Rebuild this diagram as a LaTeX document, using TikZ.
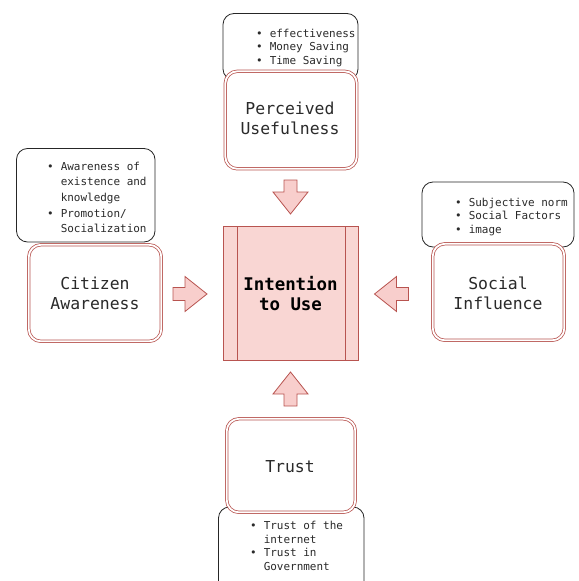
\documentclass[tikz,border=0pt]{standalone}
\usepackage{fontspec}
\setmonofont{DejaVu Sans Mono}
\newfontfamily\mono{DejaVu Sans Mono}
\definecolor{redline}{HTML}{B85450}
\definecolor{pinkfill}{HTML}{F9D6D3}
\definecolor{arrfill}{HTML}{F8CECC}
\definecolor{txt}{HTML}{2A2A2A}
\newcommand{\bl}{\makebox[13.6bp][l]{\textbullet}}
\newcommand{\ind}{\hspace*{13.6bp}}
\begin{document}
\begin{tikzpicture}[x=1bp,y=-1bp,
  notebox/.style={draw=black!85, line width=0.8bp, fill=white, rounded corners=11bp},
  factorbox/.style={draw=redline, line width=0.75bp, double=white, double distance=1.8bp, fill=white, rounded corners=12bp},
  bullets/.style={anchor=base west, inner sep=0pt, align=left, text=txt, font=\mono\fontsize{11}{13.6}\selectfont},
  label/.style={align=center, text=txt, font=\mono\fontsize{16.5}{20.5}\selectfont},
  arrstyle/.style={draw=redline, line width=0.8bp, fill=arrfill, line join=miter},
  blockarr/.pic={\draw[arrstyle] (0,-6.5) -- (12,-6.5) -- (12,-17.5) -- (34,0) -- (12,17.5) -- (12,6.5) -- (0,6.5) -- cycle;}
]
\useasboundingbox (0,0) rectangle (579,581);

% Perceived Usefulness
\draw[notebox] (223,13.5) rectangle (358,80);
\node[bullets] (pub) at (256,64.2) {\bl effectiveness\\\bl Money Saving\\\bl Time Saving};
\draw[factorbox] (225.3,71.3) rectangle (356.8,168.8);
\node[label] (pu) at (290,118.5) {Perceived\\Usefulness};

% Citizen Awareness
\draw[notebox] (16.5,148.5) rectangle (155,242);
\node[bullets, font=\mono\fontsize{11}{15.7}\selectfont] (cab) at (47,232.8) {\bl Awareness of\\\ind existence and\\\ind knowledge\\\bl Promotion/\\\ind Socialization};
\draw[factorbox] (28.8,244.8) rectangle (161.3,341.3);
\node[label] (ca) at (95,293.5) {Citizen\\Awareness};

% Social Influence
\draw[notebox] (422,182) rectangle (574,247);
\node[bullets] (sib) at (455,233.2) {\bl Subjective norm\\\bl Social Factors\\\bl image};
\draw[factorbox] (432.8,243.8) rectangle (564.3,340.3);
\node[label] (si) at (498,293.5) {Social\\Influence};

% Trust
\draw[notebox] (218.5,507) rectangle (364,600);
\draw[factorbox] (226.8,418.8) rectangle (355.3,512.3);
\node[label] (tr) at (290,467) {Trust};
\node[bullets] (trb) at (250,570.3) {\bl Trust of the\\\ind internet\\\bl Trust in\\\ind Government};

% Intention to Use
\draw[draw=redline, line width=0.9bp, fill=pinkfill] (223.5,226.5) rectangle (358,360.5);
\draw[draw=redline, line width=0.9bp] (237.5,226.5) -- (237.5,360.5) (345,226.5) -- (345,360.5);
\node[label, font=\mono\bfseries\fontsize{17.5}{21}\selectfont, text=black] (itu) at (290.5,293.5) {Intention\\to Use};

% block arrows
\pic[rotate=-90] at (290.5,180) {blockarr};
\pic at (173,294) {blockarr};
\pic[rotate=180] at (408.5,294) {blockarr};
\pic[rotate=90] at (290.5,406) {blockarr};
\end{tikzpicture}
\end{document}
